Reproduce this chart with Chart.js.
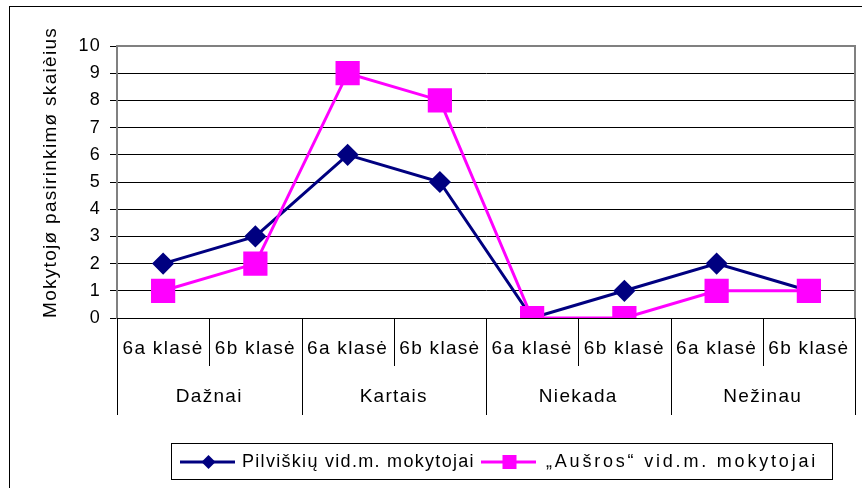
<!DOCTYPE html>
<html>
<head>
<meta charset="utf-8">
<script src="https://cdn.jsdelivr.net/npm/chart.js@4"></script>
<style>
  html, body { margin: 0; padding: 0; background: #fff; }
  #wrap { width: 862px; height: 488px; }
</style>
</head>
<body>
<div id="wrap"><canvas id="chart" width="862" height="488"></canvas></div>
<script>
// data
const groups = ['Dažnai', 'Kartais', 'Niekada', 'Nežinau'];
const classes = ['6a klasė', '6b klasė', '6a klasė', '6b klasė', '6a klasė', '6b klasė', '6a klasė', '6b klasė'];
const pilviskiu = [2, 3, 6, 5, 0, 1, 2, 1];
const ausros = [1, 2, 9, 8, 0, 0, 1, 1];
const seriesNames = ['Pilviškių vid.m. mokytojai', '„Aušros“ vid.m. mokytojai'];
const yTitle = 'Mokytojø pasirinkimø skaièius';

const FONT = 'Liberation Sans, Arial, sans-serif';
const SPACING = '1.3px'; // text in the original is a bit stretched

// legend box like the excel one
const legendBox = { left: 171, right: 832, top: 443, height: 36 };
const legendItemX = [180, 481];
const legendSpacing = ['1.3px', '2.8px'];

// outer frame, multi level axis under the plot, and the boxed legend
const excelBits = {
    id: 'excelBits',
    beforeDraw(chart) {
        const ctx = chart.ctx;
        ctx.save();
        ctx.fillStyle = '#fff';
        ctx.fillRect(0, 0, chart.width, chart.height);
        ctx.strokeStyle = '#000';
        ctx.lineWidth = 1;
        ctx.strokeRect(9.5, 6.5, chart.width + 10, chart.height + 10);
        ctx.restore();
        ctx.letterSpacing = SPACING;
    },
    afterDraw(chart) {
        const ctx = chart.ctx;
        const area = chart.chartArea;
        const x = chart.scales.x;
        ctx.save();
        ctx.letterSpacing = SPACING;

        // gray plot border top and right
        ctx.strokeStyle = '#808080';
        ctx.lineWidth = 2;
        ctx.beginPath();
        ctx.moveTo(area.left, area.top);
        ctx.lineTo(area.right, area.top);
        ctx.lineTo(area.right, area.bottom);
        ctx.stroke();

        // category separators
        const bounds = [];
        for (let i = 0; i <= classes.length; i++) {
            if (i === 0) bounds.push(area.left);
            else if (i === classes.length) bounds.push(area.right);
            else bounds.push((x.getPixelForValue(i - 1) + x.getPixelForValue(i)) / 2);
        }
        ctx.strokeStyle = '#000';
        ctx.lineWidth = 1;
        bounds.forEach((bx, i) => {
            const end = (i % 2 === 0) ? 415 : 366;
            ctx.beginPath();
            ctx.moveTo(Math.round(bx) + 0.5, area.bottom);
            ctx.lineTo(Math.round(bx) + 0.5, end);
            ctx.stroke();
        });

        // group labels
        ctx.fillStyle = '#000';
        ctx.font = '19px ' + FONT;
        ctx.textAlign = 'center';
        ctx.textBaseline = 'middle';
        groups.forEach((g, i) => {
            ctx.fillText(g, (bounds[i * 2] + bounds[i * 2 + 2]) / 2, 397);
        });

        // legend
        const ds = chart.data.datasets;
        const lineLen = 55;
        ctx.font = '18px ' + FONT;
        ctx.strokeStyle = '#000';
        ctx.lineWidth = 1;
        ctx.strokeRect(legendBox.left + 0.5, legendBox.top + 0.5,
            legendBox.right - legendBox.left, legendBox.height);
        const cy = legendBox.top + legendBox.height / 2 + 1;
        ctx.textAlign = 'left';
        seriesNames.forEach((n, i) => {
            const d = ds.find(o => o.label === n);
            const cx = legendItemX[i];
            ctx.strokeStyle = d.borderColor;
            ctx.lineWidth = 3;
            ctx.beginPath();
            ctx.moveTo(cx, cy);
            ctx.lineTo(cx + lineLen, cy);
            ctx.stroke();
            ctx.fillStyle = d.backgroundColor;
            const mx = cx + lineLen / 2 + 1;
            if (d.pointStyle === 'rect') {
                ctx.fillRect(mx - 7, cy - 7, 14, 14);
            } else {
                ctx.beginPath();
                ctx.moveTo(mx, cy - 7);
                ctx.lineTo(mx + 7, cy);
                ctx.lineTo(mx, cy + 7);
                ctx.lineTo(mx - 7, cy);
                ctx.closePath();
                ctx.fill();
            }
            ctx.fillStyle = '#000';
            ctx.letterSpacing = legendSpacing[i];
            ctx.fillText(n, cx + lineLen + (i === 0 ? 7 : 10), cy);
        });

        ctx.restore();
    }
};

const chart = new Chart(document.getElementById('chart'), {
    type: 'line',
    data: {
        labels: classes,
        datasets: [{
            label: seriesNames[0],
            data: pilviskiu,
            borderColor: '#000080',
            backgroundColor: '#000080',
            borderWidth: 3,
            pointStyle: 'rectRot',
            pointRadius: 9,
            pointHoverRadius: 9,
            tension: 0,
            order: 1
        }, {
            label: seriesNames[1],
            data: ausros,
            borderColor: '#ff00ff',
            backgroundColor: '#ff00ff',
            borderWidth: 3,
            pointStyle: 'rect',
            pointRadius: 15,
            pointHoverRadius: 15,
            tension: 0,
            order: 0
        }]
    },
    options: {
        responsive: false,
        animation: false,
        layout: { autoPadding: false, padding: { left: 39, right: 7, top: 46, bottom: 0 } },
        plugins: {
            legend: { display: false },
            tooltip: { enabled: false }
        },
        scales: {
            x: {
                offset: true,
                afterFit: s => { s.height = 170; s.paddingLeft = 0; s.paddingRight = 0; },
                grid: { display: false, drawTicks: false },
                border: { display: true, color: '#000', width: 1 },
                ticks: {
                    color: '#000',
                    font: { family: FONT, size: 19 },
                    padding: 19,
                    maxRotation: 0,
                    autoSkip: false
                }
            },
            y: {
                min: 0,
                max: 10,
                afterFit: s => { s.width = 78; },
                grid: { color: '#000', lineWidth: 1, drawTicks: true, tickLength: 7, tickColor: '#000' },
                border: { display: true, color: '#808080', width: 2 },
                ticks: {
                    stepSize: 1,
                    color: '#000',
                    font: { family: FONT, size: 18 },
                    padding: 9
                },
                title: {
                    display: true,
                    text: yTitle,
                    align: 'start',
                    color: '#000',
                    font: { family: FONT, size: 19 },
                    padding: { top: 0, bottom: 0 }
                }
            }
        }
    },
    plugins: [excelBits]
});
</script>
</body>
</html>
